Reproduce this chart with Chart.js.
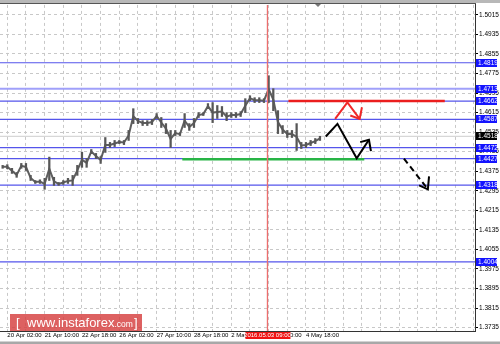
<!DOCTYPE html>
<html>
<head>
<meta charset="utf-8">
<script src="https://cdn.jsdelivr.net/npm/chart.js@4.4.1/dist/chart.umd.min.js"></script>
<style>
  html, body { margin: 0; padding: 0; background: #fff; }
</style>
</head>
<body>
<canvas id="myChart" width="500" height="344"></canvas>
<script>
// hours since 20 Apr 02:00 (H1 bars, grouped by 4)
const barHours = [
  -4, 0, 4, 8, 12, 16, 20, 24, 28, 32, 36, 40, 44, 48, 52, 56, 60, 64, 68, 72,
  76, 80, 84, 88, 92, 96, 100, 104, 108, 112, 116, 120, 124, 128, 132, 136, 140, 144, 148, 152,
  156, 160, 164, 168, 172, 176, 180, 184, 188, 192, 196, 200, 204, 208, 212, 216, 220, 224, 228, 232,
  236, 240, 244, 248, 252, 256, 260, 264, 268
];

const lows = [
  1.4387, 1.4385, 1.4366, 1.4350, 1.4387, 1.4378, 1.4337, 1.4325, 1.4325, 1.4301,
  1.4337, 1.4317, 1.4317, 1.4321, 1.4325, 1.4317, 1.4358, 1.4391, 1.4391, 1.4448,
  1.4427, 1.4407, 1.4452, 1.4472, 1.4476, 1.4488, 1.4484, 1.4501, 1.4570, 1.4570,
  1.4562, 1.4562, 1.4566, 1.4591, 1.4554, 1.4529, 1.4472, 1.4521, 1.4521, 1.4554,
  1.4542, 1.4554, 1.4595, 1.4603, 1.4631, 1.4574, 1.4591, 1.4599, 1.4582, 1.4595,
  1.4595, 1.4599, 1.4615, 1.4664, 1.4656, 1.4656, 1.4656, 1.4656, 1.4623, 1.4529,
  1.4529, 1.4513, 1.4513, 1.4460, 1.4468, 1.4472, 1.4480, 1.4488, 1.4501
];

const highs = [
  1.4399, 1.4402, 1.4387, 1.4370, 1.4407, 1.4407, 1.4358, 1.4337, 1.4340, 1.4346,
  1.4433, 1.4350, 1.4329, 1.4337, 1.4346, 1.4358, 1.4399, 1.4453, 1.4427, 1.4464,
  1.4448, 1.4435, 1.4513, 1.4493, 1.4501, 1.4501, 1.4501, 1.4542, 1.4631, 1.4591,
  1.4582, 1.4582, 1.4587, 1.4611, 1.4595, 1.4570, 1.4542, 1.4542, 1.4533, 1.4611,
  1.4570, 1.4591, 1.4615, 1.4615, 1.4652, 1.4656, 1.4644, 1.4640, 1.4615, 1.4615,
  1.4615, 1.4619, 1.4672, 1.4684, 1.4676, 1.4676, 1.4672, 1.4766, 1.4713, 1.4623,
  1.4562, 1.4542, 1.4542, 1.4570, 1.4493, 1.4493, 1.4501, 1.4509, 1.4518
];

const priceTicks = [
  1.3735, 1.3815, 1.3895, 1.3975, 1.4055, 1.4135, 1.4215, 1.4295, 1.4375,
  1.4455, 1.4535, 1.4615, 1.4695, 1.4775, 1.4855, 1.4935, 1.5015
];

const timeTicks = [0, 16, 32, 48, 64, 80, 96, 112, 128, 144, 160, 176, 192, 208, 224, 240, 256, 272, 288, 304, 320, 336, 352, 368, 384, 400];
const timeLabels = {
  0: '20 Apr 02:00', 32: '21 Apr 10:00', 64: '22 Apr 18:00', 96: '26 Apr 02:00',
  128: '27 Apr 10:00', 160: '28 Apr 18:00', 192: '2 May 02:00', 224: '3 May 10:00', 256: '4 May 18:00'
};

const levels = [1.4819, 1.4713, 1.4662, 1.4587, 1.4472, 1.4427, 1.4318, 1.4004];
const currentPrice = 1.4518;
const markerHour = 223;
const markerText = '2016.05.03 09:00';

const greenLevel = 1.4424;
const greenFrom = 150, greenTo = 306;
const redLevel = 1.4662;
const redFrom = 241, redTo = 375;

const redArrow = [[281, 1.4589], [291.5, 1.4657], [302, 1.4589]];
const redHead = [[294, 1.4603], [302, 1.4589], [304, 1.4637]];
const blackArrow = [[273, 1.4517], [283, 1.4569], [299.5, 1.4428], [310, 1.4504]];
const blackHead = [[302.5, 1.4494], [310, 1.4504], [311.7, 1.4457]];
const dashArrow = [[340, 1.4427], [360.5, 1.4301]];
const dashHead = [[353, 1.4317], [360.5, 1.4301], [361.5, 1.4354]];

const X_MIN = -6.26, X_MAX = 400.9;
const Y_MIN = 1.37211, Y_MAX = 1.50558;

const pts = arr => arr.map(p => ({ x: p[0], y: p[1] }));
const hline = (y, a, b) => [{ x: a, y: y }, { x: b, y: y }];

const lineDs = (data, color, width, order, dash) => ({
  type: 'line', data: data, borderColor: color, borderWidth: width,
  pointRadius: 0, tension: 0, fill: false, order: order, borderDash: dash || []
});

const datasets = [];
levels.forEach(v => {
  const light = v === 1.4713;
  datasets.push(lineDs(hline(v, X_MIN, X_MAX), light ? 'rgba(150,150,250,0.9)' : 'rgb(85,85,235)', light ? 2 : 1.2, 20));
});
datasets.push(lineDs(hline(currentPrice, X_MIN, X_MAX), 'rgb(205,205,205)', 1, 21));
datasets.push(lineDs([{ x: markerHour, y: Y_MIN }, { x: markerHour, y: Y_MAX }], 'rgb(236,110,110)', 1.3, 3));

datasets.push({
  type: 'bar',
  data: barHours.map((h, i) => ({ x: h, y: [lows[i], highs[i]] })),
  backgroundColor: '#575757',
  barThickness: 1.6,
  order: 10
});
datasets.push(lineDs(barHours.map((h, i) => ({ x: h, y: (lows[i] + highs[i]) / 2 })), '#5e5e5e', 2, 11));

datasets.push(lineDs(hline(greenLevel, greenFrom, greenTo), 'rgb(40,180,70)', 2.5, 5));
datasets.push(lineDs(hline(redLevel, redFrom, redTo), 'rgb(235,30,30)', 2.5, 5));
datasets.push(lineDs(pts(redArrow), 'rgb(240,40,40)', 2, 2));
datasets.push(lineDs(pts(redHead), 'rgb(240,40,40)', 2, 2));
datasets.push(lineDs(pts(blackArrow), '#000', 2, 1));
datasets.push(lineDs(pts(blackHead), '#000', 2, 1));
datasets.push(lineDs(pts(dashArrow), '#000', 2, 1, [6, 4]));
datasets.push(lineDs(pts(dashHead), '#000', 2, 1));

const decor = {
  id: 'decor',
  beforeDraw(chart) {
    const c = chart.ctx;
    c.save();
    c.fillStyle = '#fff';
    c.fillRect(0, 0, chart.width, chart.height);
    c.restore();
  },
  afterDraw(chart) {
    const c = chart.ctx;
    const ys = chart.scales.y, xs = chart.scales.x;
    c.save();
    // top frame
    c.fillStyle = '#b8b8b8';
    c.fillRect(0, 0, 500, 3);
    c.fillStyle = '#555';
    c.fillRect(0, 3, 476, 1);
    // bottom strip
    c.fillStyle = '#a8a8a8';
    c.fillRect(0, 341.5, 500, 2.5);
    // shift marker
    c.fillStyle = '#777';
    c.beginPath();
    c.moveTo(315, 4); c.lineTo(321, 4); c.lineTo(318, 7); c.closePath(); c.fill();

    // level price boxes
    c.font = '6.5px "Liberation Sans", Arial, sans-serif';
    c.textBaseline = 'middle';
    c.textAlign = 'left';
    const box = (v, bg) => {
      const y = Math.round(ys.getPixelForValue(v));
      c.fillStyle = bg;
      c.fillRect(476, y - 4, 21, 8);
      c.fillStyle = '#fff';
      c.fillText(v.toFixed(4), 478, y + 0.5);
    };
    levels.forEach(v => box(v, 'rgb(20,20,255)'));
    box(currentPrice, '#000');

    // time marker label
    const mx = xs.getPixelForValue(markerHour);
    c.fillStyle = 'rgb(240,20,20)';
    c.fillRect(mx - 22, 332, 45, 7);
    c.fillStyle = '#fff';
    c.font = '6px "Liberation Sans", Arial, sans-serif';
    c.textAlign = 'center';
    c.fillText(markerText, mx, 335.8);

    // watermark
    c.fillStyle = 'rgba(214,62,62,0.82)';
    c.fillRect(10, 314, 132, 17);
    c.fillStyle = '#fff';
    c.textAlign = 'left';
    c.font = '13px "Liberation Sans", Arial, sans-serif';
    c.fillText('[', 16, 323);
    c.fillText('www.instaforex', 27, 323);
    const w = c.measureText('www.instaforex').width;
    c.font = '8.5px "Liberation Sans", Arial, sans-serif';
    c.fillText('.com', 27 + w, 324.5);
    c.font = '13px "Liberation Sans", Arial, sans-serif';
    c.fillText(']', 134, 323);
    c.restore();
  }
};

new Chart(document.getElementById('myChart'), {
  type: 'bar',
  data: { datasets: datasets },
  options: {
    responsive: false,
    animation: false,
    layout: { padding: { top: 4, left: 0, right: 0, bottom: 0 } },
    plugins: { legend: { display: false }, tooltip: { enabled: false } },
    scales: {
      x: {
        type: 'linear',
        min: X_MIN,
        max: X_MAX,
        offset: false,
        afterBuildTicks: s => { s.ticks = timeTicks.map(v => ({ value: v })); },
        afterFit: s => { s.height = 13; },
        grid: { color: 'rgb(200,200,200)', drawTicks: false, offset: false },
        border: { display: true, color: '#333', width: 1, dash: [3, 3] },
        ticks: {
          autoSkip: false, maxRotation: 0, minRotation: 0, align: 'start', padding: 1,
          color: '#000', font: { family: '"Liberation Sans", Arial, sans-serif', size: 6 },
          callback: v => timeLabels[v] || ''
        }
      },
      y: {
        type: 'linear',
        position: 'right',
        min: Y_MIN,
        max: Y_MAX,
        afterBuildTicks: s => { s.ticks = priceTicks.map(v => ({ value: v })); },
        afterFit: s => { s.width = 25; },
        grid: { color: 'rgb(200,200,200)', tickLength: 3, tickColor: '#000', tickBorderDash: [] },
        border: { display: true, color: '#333', width: 1, dash: [3, 3] },
        ticks: {
          padding: 1, color: '#000',
          font: { family: '"Liberation Sans", Arial, sans-serif', size: 6.5 },
          callback: v => Number(v).toFixed(4)
        }
      }
    }
  },
  plugins: [decor]
});
</script>
</body>
</html>
